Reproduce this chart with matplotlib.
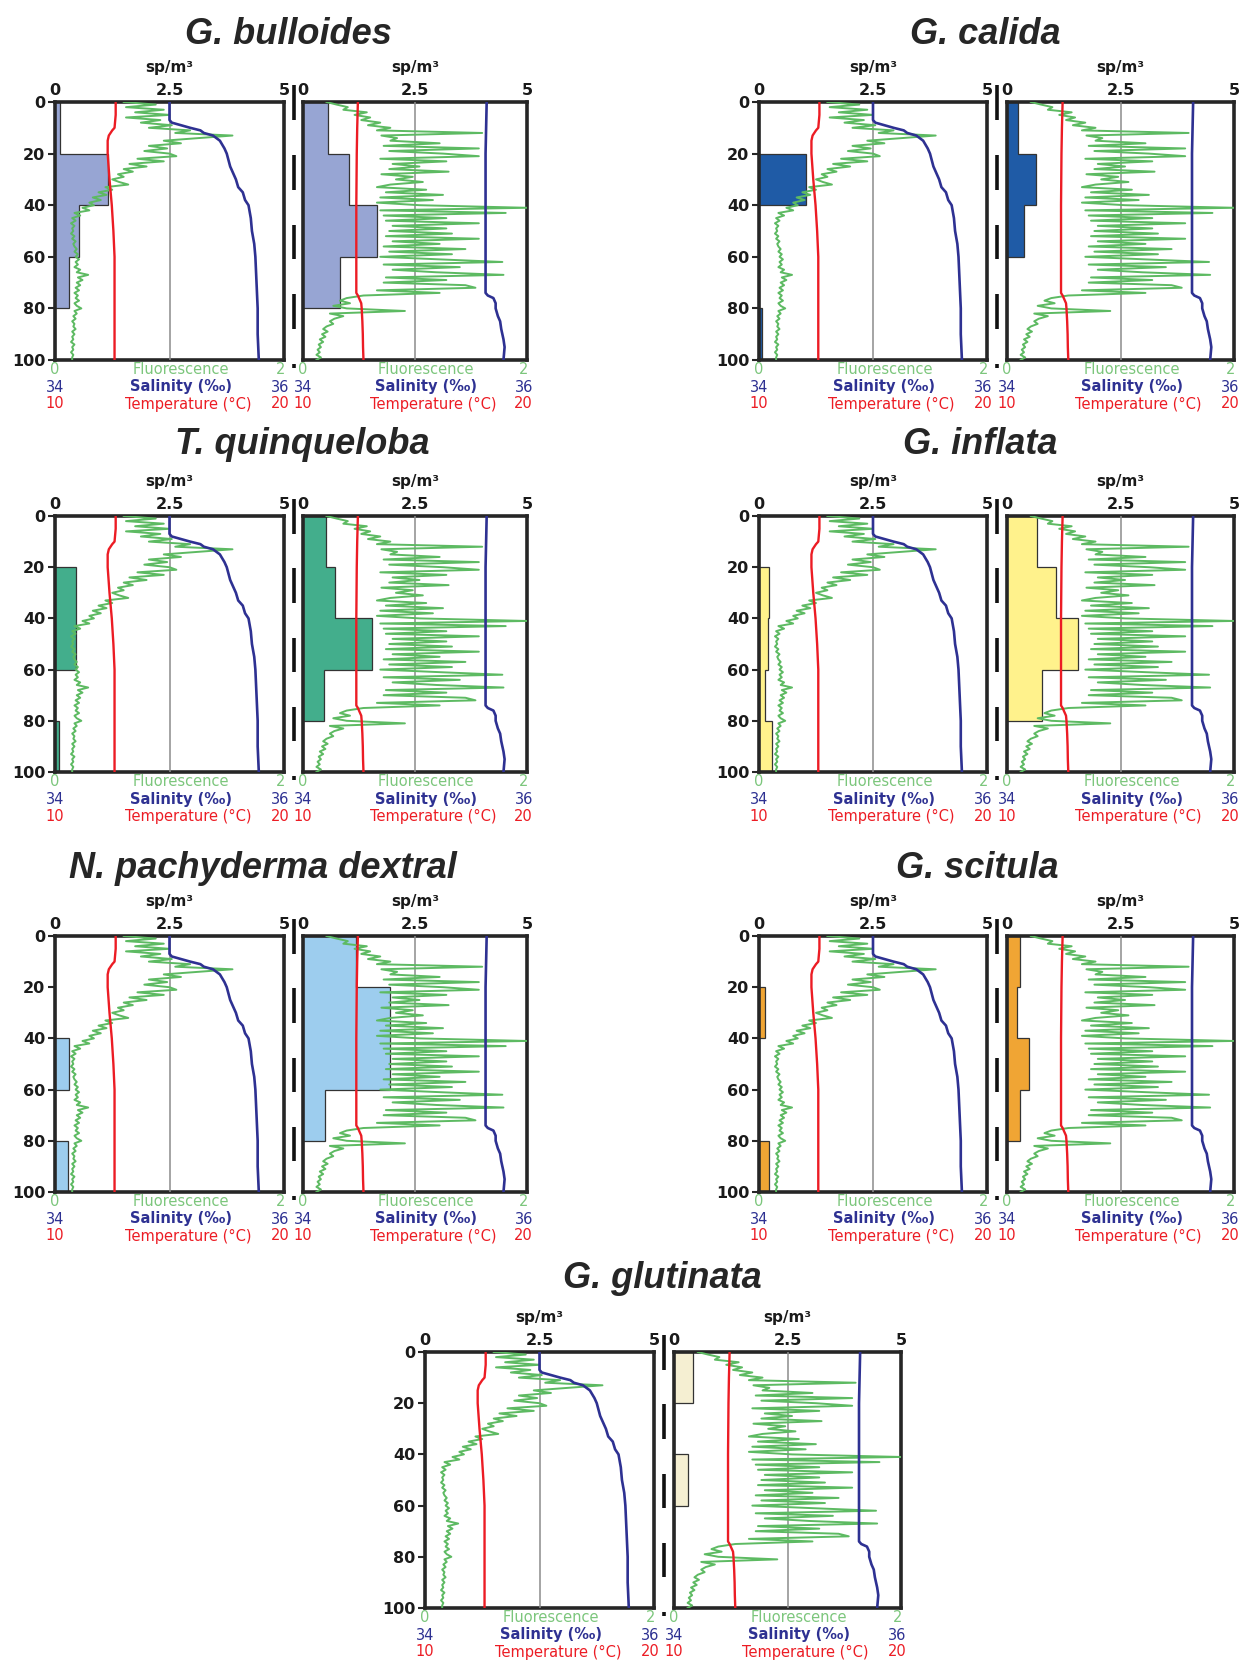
import numpy as np
import matplotlib
matplotlib.use('Agg')
import matplotlib.pyplot as plt
import matplotlib.transforms as mtransforms

plt.rcParams['font.family'] = ['DejaVu Sans']

# species and their abundances (sp/m3) per 20 m depth bin, two stations
species = ['G. bulloides', 'G. calida', 'T. quinqueloba', 'G. inflata',
           'N. pachyderma dextral', 'G. scitula', 'G. glutinata']
bar_colors = ['#97a5d3', '#1f5ba6', '#43ae8c', '#fff28c', '#9dcdee', '#f0a534', '#f5efd2']
depth_edges = [0, 20, 40, 60, 80, 100]
counts_left = [
    [0.10, 1.15, 0.52, 0.30, 0.00],
    [0.00, 1.04, 0.00, 0.00, 0.06],
    [0.00, 0.45, 0.45, 0.00, 0.09],
    [0.00, 0.23, 0.19, 0.14, 0.28],
    [0.00, 0.00, 0.31, 0.00, 0.29],
    [0.00, 0.14, 0.00, 0.00, 0.21],
    [0.00, 0.00, 0.00, 0.00, 0.00],
]
counts_right = [
    [0.55, 1.02, 1.66, 0.83, 0.00],
    [0.25, 0.63, 0.38, 0.00, 0.00],
    [0.52, 0.72, 1.55, 0.47, 0.00],
    [0.66, 1.07, 1.56, 0.78, 0.00],
    [1.18, 1.95, 1.95, 0.48, 0.00],
    [0.29, 0.21, 0.49, 0.29, 0.00],
    [0.42, 0.00, 0.30, 0.00, 0.00],
]

# CTD profiles (same for every species)
fluo_depth = list(range(0, 101))
fluo_left = [
    0.60, 0.88, 0.62, 0.95, 0.70, 1.00, 0.62, 0.92, 0.75, 1.02,
    0.82, 1.18, 1.05, 1.55, 1.25, 0.95, 1.10, 0.82, 0.98, 0.78,
    1.00, 1.06, 0.72, 0.95, 0.65, 0.80, 0.60, 0.68, 0.55, 0.60,
    0.50, 0.56, 0.64, 0.44, 0.50, 0.38, 0.45, 0.33, 0.40, 0.30,
    0.34, 0.24, 0.30, 0.17, 0.22, 0.15, 0.18, 0.14, 0.17, 0.15,
    0.16, 0.14, 0.17, 0.15, 0.18, 0.16, 0.17, 0.19, 0.17, 0.20,
    0.18, 0.21, 0.18, 0.20, 0.17, 0.22, 0.19, 0.29, 0.20, 0.24,
    0.19, 0.22, 0.18, 0.21, 0.17, 0.20, 0.18, 0.21, 0.17, 0.19,
    0.23, 0.17, 0.19, 0.16, 0.18, 0.15, 0.17, 0.16, 0.18, 0.15,
    0.17, 0.15, 0.16, 0.14, 0.17, 0.15, 0.16, 0.14, 0.16, 0.15,
    0.15]
fluo_right = [
    0.21, 0.30, 0.40, 0.36, 0.57, 0.46, 0.60, 0.52, 0.69, 0.58,
    0.78, 0.66, 1.60, 0.70, 0.84, 0.78, 1.22, 0.72, 1.57, 0.77,
    1.25, 1.57, 0.69, 1.28, 0.80, 1.04, 0.77, 1.30, 0.70, 0.98,
    0.83, 1.07, 0.78, 0.66, 1.10, 0.74, 1.25, 0.69, 1.16, 0.66,
    1.04, 2.00, 0.69, 1.81, 0.72, 1.28, 0.74, 1.57, 0.80, 1.28,
    0.77, 1.33, 0.74, 1.57, 0.80, 1.22, 0.72, 1.45, 0.77, 1.33,
    0.69, 1.22, 1.78, 0.72, 1.40, 0.80, 1.19, 1.79, 0.74, 1.28,
    0.72, 1.45, 1.54, 0.66, 1.22, 0.54, 0.39, 0.33, 0.42, 0.27,
    0.39, 0.91, 0.24, 0.36, 0.28, 0.24, 0.27, 0.21, 0.18, 0.22,
    0.17, 0.20, 0.15, 0.18, 0.14, 0.16, 0.13, 0.15, 0.12, 0.16,
    0.12]

temp_left_depth = [0, 5, 10, 11, 13, 15, 20, 30, 40, 50, 60, 70, 80, 90, 100]
temp_left = [12.65, 12.65, 12.6, 12.5, 12.35, 12.3, 12.3, 12.38, 12.48, 12.55,
             12.6, 12.6, 12.6, 12.6, 12.6]
sal_left_depth = [0, 3, 7, 8, 9, 10, 11, 12, 13, 15, 18, 20, 25, 30, 33, 35, 38, 40,
                  45, 50, 55, 60, 70, 80, 90, 100]
sal_left = [35.0, 35.0, 35.0, 35.02, 35.1, 35.18, 35.27, 35.3, 35.38, 35.44, 35.48,
            35.5, 35.53, 35.58, 35.6, 35.64, 35.66, 35.69, 35.71, 35.72, 35.74, 35.75,
            35.76, 35.77, 35.77, 35.78]
temp_right_depth = [0, 10, 20, 40, 60, 74, 75, 77, 78, 80, 85, 90, 95, 100]
temp_right = [12.45, 12.42, 12.4, 12.38, 12.38, 12.38, 12.45, 12.55, 12.6, 12.62,
              12.65, 12.67, 12.68, 12.7]
sal_right_depth = [0, 20, 40, 60, 74, 75, 76, 77, 78, 80, 83, 85, 88, 90, 92, 95, 100]
sal_right = [35.64, 35.63, 35.63, 35.63, 35.63, 35.65, 35.7, 35.71, 35.72, 35.72,
             35.74, 35.76, 35.77, 35.78, 35.79, 35.8, 35.79]

depth_ticks = [0, 20, 40, 60, 80, 100]
sp_ticks = [0, 2.5, 5]
sp_ticklabels = ['0', '2.5', '5']

GREEN = '#5dba62'
GREEN_TXT = '#7cc67c'
BLUE = '#2e3192'
RED = '#ec1c24'
GREY = '#8c8c8c'
FRAME = '#262626'
INK = '#1a1a1a'

W, H = 1244, 1661
fig = plt.figure(figsize=(W / 100, H / 100), dpi=100)

# panel pixel layout
cols = {'L': ((55, 284), (303, 527)), 'R': ((759, 987), (1007, 1234)),
        'C': ((425, 654), (674, 901))}
rows = [(102, 360), (516, 772), (936, 1192), (1352, 1608)]
placement = [('L', 0), ('R', 0), ('L', 1), ('R', 1), ('L', 2), ('R', 2), ('C', 3)]
title_pos = [(288, 34), (985, 34), (302, 445), (980, 445), (263, 869), (977, 869), (662, 1279)]


def add_ax(x0, x1, y0, y1):
    return fig.add_axes([x0 / W, 1 - y1 / H, (x1 - x0) / W, (y1 - y0) / H])


def draw_panel(xr, yr, counts, color, fl, td, t, sd, s, show_depth):
    ax = add_ax(xr[0], xr[1], yr[0], yr[1])
    ax.set_xlim(0, 5)
    ax.set_ylim(100, 0)
    ax.stairs(counts, depth_edges, orientation='horizontal', baseline=0,
              fill=True, color=color, zorder=1)
    ax.stairs(counts, depth_edges, orientation='horizontal', baseline=0,
              fill=False, color='#333333', lw=0.9, zorder=2)
    ax.axvline(2.5, color=GREY, lw=1.1, zorder=3)

    axf = ax.twiny()
    axf.set_xlim(0, 2)
    axf.plot(fl, fluo_depth, color=GREEN, lw=1.4)
    axt = ax.twiny()
    axt.set_xlim(10, 20)
    axt.plot(t, td, color=RED, lw=1.7)
    axs = ax.twiny()
    axs.set_xlim(34, 36)
    axs.plot(s, sd, color=BLUE, lw=1.9)
    for tw in (axf, axt, axs):
        tw.set_axis_off()
    ax.set_ylim(100, 0)

    for side in ax.spines.values():
        side.set_linewidth(2.6)
        side.set_color(FRAME)

    # twiny resets the parent ticks to the bottom, so set them afterwards
    ax.xaxis.tick_top()
    ax.set_xticks(sp_ticks)
    ax.set_xticklabels(sp_ticklabels, fontweight='bold')
    ax.tick_params(axis='x', length=0, pad=3, labelsize=11.5, labelcolor=INK)
    ax.xaxis.set_label_position('top')
    ax.set_xlabel('sp/m³', fontsize=11, labelpad=8, color=INK, fontweight='bold')
    if show_depth:
        ax.set_yticks(depth_ticks)
        ax.set_yticklabels([str(d) for d in depth_ticks], fontweight='bold')
        ax.tick_params(axis='y', direction='out', length=5, width=1.5,
                       labelsize=11.5, pad=2, labelcolor=INK, color=FRAME)
    else:
        ax.set_yticks([])

    h = yr[1] - yr[0]
    labels = [(9, '0', 'Fluorescence', '2', GREEN_TXT, 0.55, 'normal'),
              (27, '34', 'Salinity (‰)', '36', BLUE, 0.55, 'bold'),
              (44, '10', 'Temperature (°C)', '20', RED, 0.58, 'normal')]
    for off, lo, mid, hi, c, xm, wt in labels:
        yy = -off / h
        ax.text(0.0, yy, lo, transform=ax.transAxes, ha='center', va='center',
                color=c, fontsize=10.5)
        ax.text(xm, yy, mid, transform=ax.transAxes, ha='center', va='center',
                color=c, fontsize=10.5, fontweight=wt)
        ax.text(0.985, yy, hi, transform=ax.transAxes, ha='center', va='center',
                color=c, fontsize=10.5)
    return ax


for i, name in enumerate(species):
    col, row = placement[i]
    (lx, rx) = cols[col]
    yr = rows[row]
    axl = draw_panel(lx, yr, counts_left[i], bar_colors[i], fluo_left,
                     temp_left_depth, temp_left, sal_left_depth, sal_left, True)
    draw_panel(rx, yr, counts_right[i], bar_colors[i], fluo_right,
               temp_right_depth, temp_right, sal_right_depth, sal_right, False)

    # dashed divider between the two stations
    xf = ((lx[1] + rx[0]) / 2 - lx[0]) / (lx[1] - lx[0])
    trans = mtransforms.blended_transform_factory(axl.transAxes, axl.transData)
    for a, b in [(-6.6, 7), (20.5, 34), (47.5, 61), (74.5, 88), (101.5, 103)]:
        axl.plot([xf, xf], [a, b], color='#111111', lw=2.6, solid_capstyle='butt',
                 transform=trans, clip_on=False)

    tx, ty = title_pos[i]
    fig.text(tx / W, 1 - ty / H, name, ha='center', va='center', fontsize=26,
             style='italic', fontweight='bold', color='#262626',
             family=['Liberation Sans', 'DejaVu Sans'])

fig.savefig('out.png', dpi=100)
